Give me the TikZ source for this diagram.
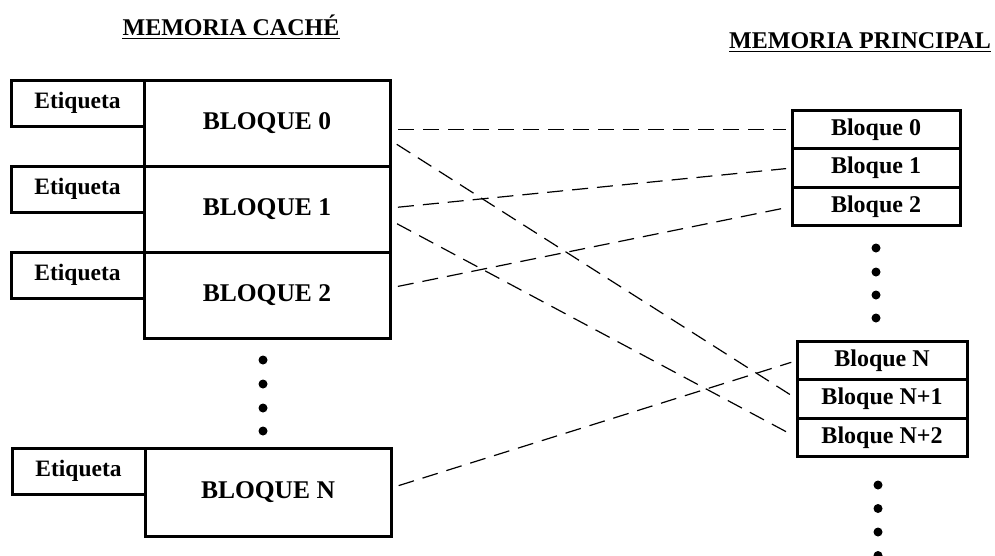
\documentclass[tikz,border=0pt]{standalone}
\usepackage{fontspec}
\setmainfont{Liberation Serif}
\usetikzlibrary{calc}

\begin{document}
\begin{tikzpicture}[x = 1pt, y = -1pt,
	bloque/.style = {draw, line width = 3pt, outer sep = 0pt, minimum width = 246pt, minimum height = 86pt, font = \bfseries\fontsize{25.5}{26}\selectfont},
	etiq/.style = {draw, line width = 3pt, outer sep = 0pt, minimum width = 133pt, minimum height = 46pt, font = \bfseries\fontsize{23.5}{24}\selectfont},
	celda/.style = {draw, line width = 3pt, outer sep = 0pt, minimum width = 168pt, minimum height = 38.7pt, font = \bfseries\fontsize{24}{24}\selectfont},
	titulo/.style = {inner sep = 0pt, font = \bfseries\fontsize{24}{24}\selectfont},
	enlace/.style = {line width = 1.2pt, dash pattern = on 16pt off 9pt, shorten < = 8pt, shorten > = 6pt}]
\useasboundingbox (0, 0) rectangle (995, 555);

\node[titulo, anchor = base] at (231, 35) (tcache) {MEMORIA CACHÉ};
\node[titulo, anchor = base] at (860, 48) (tprin) {MEMORIA PRINCIPAL};
\draw[line width = 1.5pt] ([yshift = -3.5pt]tcache.base west) -- ([yshift = -3.5pt]tcache.base east);
\draw[line width = 1.5pt] ([yshift = -3.5pt]tprin.base west) -- ([yshift = -3.5pt]tprin.base east);

\foreach \i/\y in {0/123, 1/209, 2/295}{
	\node[bloque] at (267, \y) (blk\i) {BLOQUE \i};
	\node[etiq, anchor = north east] at (blk\i.north west) (etq\i) {Etiqueta};}
\node[bloque, minimum height = 88pt] at (268, 492) (blkN) {BLOQUE N};
\node[etiq, anchor = north east] at (blkN.north west) (etqN) {Etiqueta};

\foreach \i/\y in {0/129.5, 1/168, 2/206.5}
	\node[celda] at (876, \y) (mem\i) {Bloque \i};
\foreach \i/\t/\y in {N/N/360.5, N1/N+1/399, N2/N+2/437.5}
	\node[celda, minimum width = 170pt] at (882, \y) (mem\i) {Bloque \t};

\foreach \y in {360, 384, 408, 431}
	\fill (263, \y) circle (4.5pt);
\foreach \y in {248, 272, 295, 318}
	\fill (876, \y) circle (4.5pt);
\foreach \y in {485, 508.5, 532, 555.5}
	\fill (878, \y) circle (4.5pt);

\draw[enlace] (blk0.east |- mem0.west) -- (mem0.west);
\draw[enlace] ([yshift = -17pt]blk0.east) -- (memN1.west);
\draw[enlace] ([yshift = 1pt]blk1.east) -- (mem1.west);
\draw[enlace] ([yshift = -11pt]blk1.east) -- (memN2.west);
\draw[enlace] ([yshift = 7pt]blk2.east) -- (mem2.west);
\draw[enlace] ([yshift = 4pt]blkN.east) -- (memN.west);

\end{tikzpicture}
\end{document}
